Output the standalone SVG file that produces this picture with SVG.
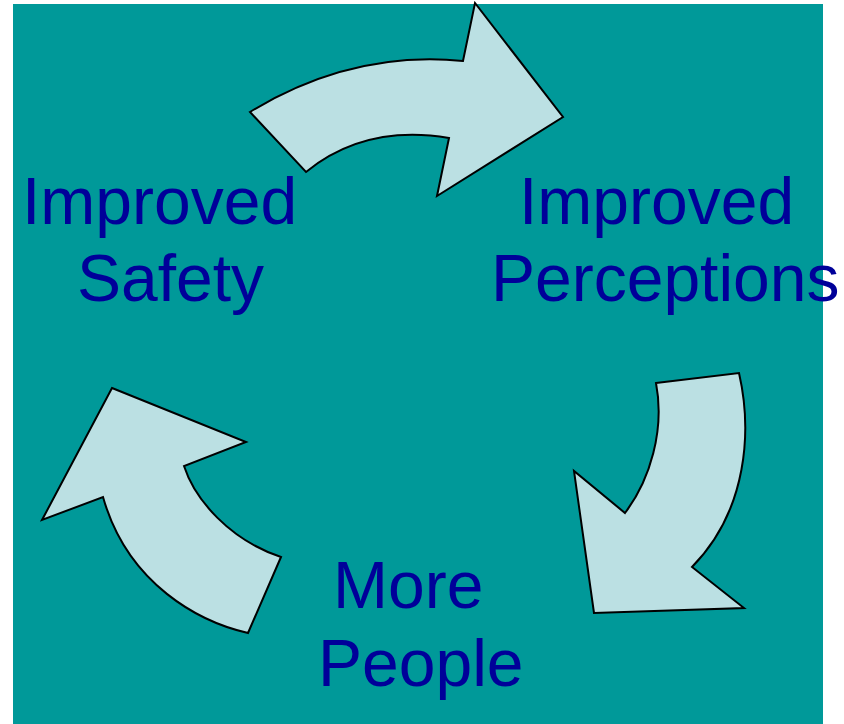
<svg xmlns="http://www.w3.org/2000/svg" width="844" height="724" viewBox="0 0 844 724">
<style>
.arrow{fill:#BBE0E3;stroke:#000;stroke-width:2;stroke-linejoin:miter}
.lbl{font-family:"Liberation Sans",Arial,sans-serif;font-size:66px;fill:#000099}
</style>
<rect x="13" y="4" width="810" height="720" fill="#009999"/>
<g id="connectors">
<path id="arrow-top" class="arrow" d="M250,112 Q352,50 463,61 L475,3 L563,117 L437,196 L449,138 Q365,124 306,172 Z"/>
<path id="arrow-right" class="arrow" d="M656,383 L739,373 C752,430 748,510 692,567 L744,608 L594,613 L574,471 L625,513 C650,480 665,430 656,383 Z"/>
<path id="arrow-left" class="arrow" d="M112,388 L246,442 L184,466 C195,500 230,540 281,557 L248,633 C200,622 128,585 103,497 L42,520 Z"/>
</g>
<g id="node-safety">
<text class="lbl" x="22" y="224">Improved</text>
<text class="lbl" x="77" y="301">Safety</text>
</g>
<g id="node-perceptions">
<text class="lbl" x="519" y="224">Improved</text>
<text class="lbl" x="491" y="301">Perceptions</text>
</g>
<g id="node-people">
<text class="lbl" x="333" y="608">More</text>
<text class="lbl" x="318" y="686">People</text>
</g>
</svg>
